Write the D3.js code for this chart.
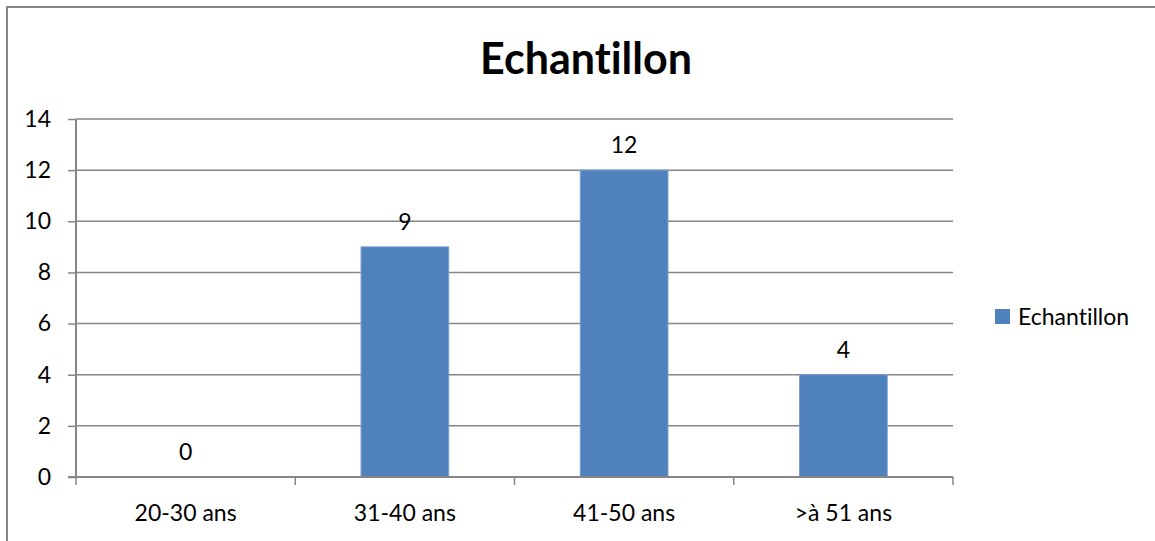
<!DOCTYPE html>
<html>
<head>
<meta charset="utf-8">
<script src="https://cdn.jsdelivr.net/npm/d3@7"></script>
<style>
  html, body { margin: 0; padding: 0; background: #fff; }
  svg { display: block; }
  text { font-family: Lato, "Open Sans", sans-serif; fill: #000; font-variant-ligatures: none; font-feature-settings: "liga" 0; }
</style>
</head>
<body>
<svg id="chart" width="1155" height="541"></svg>
<script>
// Age groups and number of people in each
const categories = ["20-30 ans", "31-40 ans", "41-50 ans", ">à 51 ans"];
const values = [0, 9, 12, 4];
const yTicks = [0, 2, 4, 6, 8, 10, 12, 14];
const seriesName = "Echantillon";
const chartTitle = "Echantillon";

const svg = d3.select("#chart");
const W = 1155, H = 541;
const plot = { left: 76, right: 953, top: 119, bottom: 477 };
const gridColor = "#868686";
const barColor = "#4F81BD";
const labelSize = 23;

// Outer frame of the chart area
svg.append("rect")
  .attr("x", 7).attr("y", 7)
  .attr("width", W).attr("height", H)
  .attr("fill", "#fff")
  .attr("stroke", gridColor).attr("stroke-width", 2);

const x = d3.scaleBand().domain(categories).range([plot.left, plot.right]).paddingInner(0.6).paddingOuter(0.3);
const xEdges = d3.scaleLinear().domain([0, categories.length]).range([plot.left, plot.right]);
const y = d3.scaleLinear().domain([0, 14]).range([plot.bottom, plot.top]);

// Horizontal gridlines
svg.append("g").selectAll("line").data(yTicks.filter(d => d > 0)).join("line")
  .attr("x1", plot.left).attr("x2", plot.right)
  .attr("y1", d => y(d)).attr("y2", d => y(d))
  .attr("stroke", gridColor).attr("stroke-width", 1.5);

// Bars
svg.append("g").selectAll("rect").data(values).join("rect")
  .attr("x", (d, i) => x(categories[i]))
  .attr("width", x.bandwidth())
  .attr("y", d => y(d))
  .attr("height", d => y(0) - y(d))
  .attr("fill", barColor)
  .attr("stroke", "#7a9fd0").attr("stroke-width", 1);

// Y axis
const yAxis = svg.append("g").attr("transform", `translate(${plot.left},0)`)
  .call(d3.axisLeft(y).tickValues(yTicks).tickSize(8).tickPadding(17).tickFormat(d3.format("d")));
yAxis.select(".domain").remove();
yAxis.selectAll(".tick line").attr("stroke", gridColor).attr("stroke-width", 1.5);
yAxis.selectAll(".tick text").attr("font-size", labelSize).attr("fill", "#000")
  .attr("font-family", "Lato, 'Open Sans', sans-serif");
yAxis.append("line")
  .attr("x1", 0).attr("x2", 0).attr("y1", plot.top).attr("y2", plot.bottom + 0.5)
  .attr("stroke", gridColor).attr("stroke-width", 2);

// X axis baseline with ticks at category boundaries
const xg = svg.append("g");
xg.append("line")
  .attr("x1", plot.left - 8).attr("x2", plot.right)
  .attr("y1", plot.bottom).attr("y2", plot.bottom)
  .attr("stroke", gridColor).attr("stroke-width", 2);
xg.selectAll("line.tick").data(d3.range(categories.length + 1)).join("line")
  .attr("class", "tick")
  .attr("x1", i => xEdges(i)).attr("x2", i => xEdges(i))
  .attr("y1", plot.bottom).attr("y2", plot.bottom + 8)
  .attr("stroke", gridColor).attr("stroke-width", 1.5);
xg.selectAll("text").data(categories).join("text")
  .attr("x", d => x(d) + x.bandwidth() / 2)
  .attr("y", plot.bottom + 44)
  .attr("text-anchor", "middle")
  .attr("font-size", labelSize)
  .text(d => d);

// Value labels
svg.append("g").selectAll("text").data(values).join("text")
  .attr("x", (d, i) => x(categories[i]) + x.bandwidth() / 2)
  .attr("y", d => y(d) - 17)
  .attr("text-anchor", "middle")
  .attr("font-size", labelSize)
  .text(d => d);

// Title
svg.append("text")
  .attr("x", 586).attr("y", 74)
  .attr("text-anchor", "middle")
  .attr("font-size", 43).attr("font-weight", 700)
  .text(chartTitle);

// Legend
const lg = svg.append("g").attr("transform", "translate(995,317)");
lg.append("rect").attr("x", 0).attr("y", -8).attr("width", 15).attr("height", 15).attr("fill", barColor);
lg.append("text").attr("x", 23).attr("y", 8).attr("font-size", labelSize).text(seriesName);
</script>
</body>
</html>
